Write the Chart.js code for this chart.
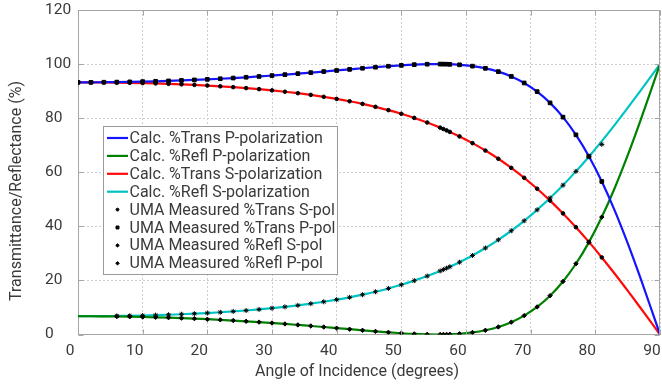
<!DOCTYPE html>
<html>
<head>
<meta charset="utf-8">
<script src="https://cdn.jsdelivr.net/npm/chart.js@4.4.1/dist/chart.umd.min.js"></script>
<style>
  html, body { margin: 0; padding: 0; background: #fff; }
  #wrap { width: 662px; height: 385px; }
</style>
</head>
<body>
<div id="wrap"><canvas id="chart" width="662" height="385"></canvas></div>
<script>
// calculated curves (degrees -> %)
const calcAngles = [0, 2, 4, 6, 8, 10, 12, 14, 16, 18, 20, 22, 24, 26, 28, 30, 32, 34, 36, 38, 40, 42, 44, 46, 48, 50, 52, 54, 56, 57, 59, 61, 63, 65, 67, 69, 71, 73, 75, 77, 79, 81, 83, 85, 87, 89, 90];
const calcTransP = [93.24, 93.25, 93.29, 93.34, 93.42, 93.52, 93.64, 93.78, 93.95, 94.14, 94.35, 94.58, 94.84, 95.12, 95.42, 95.75, 96.09, 96.46, 96.84, 97.23, 97.64, 98.04, 98.45, 98.84, 99.20, 99.53, 99.79, 99.95, 100.00, 99.96, 99.73, 99.24, 98.43, 97.20, 95.44, 93.02, 89.81, 85.65, 80.38, 73.84, 65.93, 56.58, 45.83, 33.79, 20.72, 6.98, 0];
const calcReflP = [6.76, 6.75, 6.71, 6.66, 6.58, 6.48, 6.36, 6.22, 6.05, 5.86, 5.65, 5.42, 5.16, 4.88, 4.58, 4.25, 3.91, 3.54, 3.16, 2.77, 2.36, 1.96, 1.55, 1.16, 0.80, 0.47, 0.21, 0.05, 0.00, 0.04, 0.27, 0.76, 1.57, 2.80, 4.56, 6.98, 10.19, 14.35, 19.62, 26.16, 34.07, 43.42, 54.17, 66.21, 79.28, 93.02, 100];
const calcTransS = [93.24, 93.23, 93.20, 93.14, 93.07, 92.97, 92.84, 92.69, 92.51, 92.30, 92.06, 91.78, 91.47, 91.12, 90.73, 90.28, 89.78, 89.23, 88.60, 87.90, 87.12, 86.25, 85.28, 84.19, 82.97, 81.61, 80.09, 78.39, 76.50, 75.47, 73.25, 70.77, 68.02, 64.98, 61.63, 57.95, 53.91, 49.52, 44.78, 39.68, 34.24, 28.49, 22.47, 16.22, 9.80, 3.28, 0];
const calcReflS = [6.76, 6.77, 6.80, 6.86, 6.93, 7.03, 7.16, 7.31, 7.49, 7.70, 7.94, 8.22, 8.53, 8.88, 9.27, 9.72, 10.22, 10.77, 11.40, 12.10, 12.88, 13.75, 14.72, 15.81, 17.03, 18.39, 19.91, 21.61, 23.50, 24.53, 26.75, 29.23, 31.98, 35.02, 38.37, 42.05, 46.09, 50.48, 55.22, 60.32, 65.76, 71.51, 77.53, 83.78, 90.20, 96.72, 100];

// measured points
const measTransAngles = [0, 2, 4, 6, 8, 10, 12, 14, 16, 18, 20, 22, 24, 26, 28, 30, 32, 34, 36, 38, 40, 42, 44, 46, 48, 50, 52, 54, 56, 56.5, 57, 57.5, 59, 61, 63, 65, 67, 69, 71, 73, 75, 77, 79, 81];
const measTransS = [93.24, 93.23, 93.20, 93.14, 93.07, 92.97, 92.84, 92.69, 92.51, 92.30, 92.06, 91.78, 91.47, 91.12, 90.73, 90.28, 89.78, 89.23, 88.60, 87.90, 87.12, 86.25, 85.28, 84.19, 82.97, 81.61, 80.09, 78.39, 76.50, 75.99, 75.47, 74.93, 73.25, 70.77, 68.02, 64.98, 61.63, 57.95, 53.91, 49.52, 44.78, 39.68, 34.24, 28.49];
const measTransP = [93.24, 93.25, 93.29, 93.34, 93.42, 93.52, 93.64, 93.78, 93.95, 94.14, 94.35, 94.58, 94.84, 95.12, 95.42, 95.75, 96.09, 96.46, 96.84, 97.23, 97.64, 98.04, 98.45, 98.84, 99.20, 99.53, 99.79, 99.95, 100.00, 99.98, 99.96, 99.91, 99.73, 99.24, 98.43, 97.20, 95.44, 93.02, 89.81, 85.65, 80.38, 73.84, 65.93, 56.58];
const measReflAngles = [6, 8, 10, 12, 14, 16, 18, 20, 22, 24, 26, 28, 30, 32, 34, 36, 38, 40, 42, 44, 46, 48, 50, 52, 54, 56, 56.5, 57, 57.5, 59, 61, 63, 65, 67, 69, 71, 73, 75, 77, 79, 81];
const measReflS = [6.86, 6.93, 7.03, 7.16, 7.31, 7.49, 7.70, 7.94, 8.22, 8.53, 8.88, 9.27, 9.72, 10.22, 10.77, 11.40, 12.10, 12.88, 13.75, 14.72, 15.81, 17.03, 18.39, 19.91, 21.61, 23.50, 24.01, 24.53, 25.07, 26.75, 29.23, 31.98, 35.02, 38.37, 42.05, 46.09, 50.48, 55.22, 60.32, 65.76, 70.30];
const measReflP = [6.66, 6.58, 6.48, 6.36, 6.22, 6.05, 5.86, 5.65, 5.42, 5.16, 4.88, 4.58, 4.25, 3.91, 3.54, 3.16, 2.77, 2.36, 1.96, 1.55, 1.16, 0.80, 0.47, 0.21, 0.05, 0.00, 0.02, 0.04, 0.09, 0.27, 0.76, 1.57, 2.80, 4.56, 6.98, 10.19, 14.35, 19.62, 26.16, 34.07, 43.42];

const xTitle = 'Angle of Incidence (degrees)';
const yTitle = 'Transmittance/Reflectance (%)';

const FONT = 'Roboto, "Noto Sans", sans-serif';
const TEXT = '#3a3a3a';
const AXIS = '#a6a6a6';

const xy = (xs, ys) => xs.map((x, i) => ({ x: x, y: ys[i] }));

const lineSet = (label, xs, ys, color) => ({
    label: label,
    data: xy(xs, ys),
    borderColor: color,
    backgroundColor: color,
    borderWidth: 2.2,
    pointRadius: 0,
    showLine: true,
    cubicInterpolationMode: 'monotone',
    order: 2
});

const pointSet = (label, xs, ys, style, radius) => ({
    label: label,
    data: xy(xs, ys),
    showLine: false,
    pointStyle: style,
    pointRadius: radius,
    pointBackgroundColor: '#000',
    pointBorderColor: '#000',
    pointBorderWidth: 1,
    order: 1
});

// box, inner ticks, legend and axis titles
const framePlugin = {
    id: 'frame',
    afterDatasetsDraw(chart) {
        const { ctx, chartArea: a, scales: { x, y } } = chart;
        const L = Math.round(a.left) + 0.5, R = Math.round(a.right) - 0.5;
        const T = Math.round(a.top) + 0.5, B = Math.round(a.bottom) - 0.5;
        ctx.save();
        ctx.strokeStyle = AXIS;
        ctx.lineWidth = 1;
        ctx.beginPath();
        ctx.moveTo(L, T); ctx.lineTo(R, T); ctx.lineTo(R, B);
        x.ticks.forEach(t => {
            const px = Math.round(x.getPixelForValue(t.value)) + 0.5;
            ctx.moveTo(px, B); ctx.lineTo(px, B - 5);
            ctx.moveTo(px, T); ctx.lineTo(px, T + 5);
        });
        y.ticks.forEach(t => {
            const py = Math.round(y.getPixelForValue(t.value)) + 0.5;
            ctx.moveTo(L, py); ctx.lineTo(L + 5, py);
            ctx.moveTo(R, py); ctx.lineTo(R - 5, py);
        });
        ctx.stroke();
        ctx.restore();
    },
    afterDraw(chart) {
        const { ctx, chartArea: a } = chart;
        ctx.save();

        // axis titles
        ctx.fillStyle = TEXT;
        ctx.font = '16px ' + FONT;
        ctx.textAlign = 'center';
        ctx.textBaseline = 'middle';
        ctx.fillText(xTitle, 357, 372);
        ctx.save();
        ctx.translate(17, 191);
        ctx.rotate(-Math.PI / 2);
        ctx.fillText(yTitle, 0, 0);
        ctx.restore();

        // legend
        const bx = a.left + 25.5, by = a.top + 116.5, bw = 234, bh = 148;
        ctx.fillStyle = '#fff';
        ctx.fillRect(bx, by, bw, bh);
        ctx.strokeStyle = '#9a9a9a';
        ctx.lineWidth = 1;
        ctx.strokeRect(bx, by, bw, bh);
        ctx.textAlign = 'left';
        ctx.font = '16px ' + FONT;
        chart.data.datasets.forEach((ds, i) => {
            const ry = by + 11.5 + i * 17.9;
            if (ds.showLine) {
                ctx.strokeStyle = ds.borderColor;
                ctx.lineWidth = 2.2;
                ctx.beginPath();
                ctx.moveTo(bx + 3.5, ry);
                ctx.lineTo(bx + 24.5, ry);
                ctx.stroke();
            } else {
                ctx.fillStyle = '#000';
                ctx.strokeStyle = '#000';
                ctx.lineWidth = 1;
                Chart.helpers.drawPoint(ctx, { pointStyle: ds.pointStyle, radius: ds.pointRadius * 0.8, rotation: 0, borderWidth: 1 }, bx + 14, ry);
            }
            ctx.fillStyle = TEXT;
            ctx.fillText(ds.label, bx + 26, ry + 1);
        });
        ctx.restore();
    }
};

new Chart(document.getElementById('chart'), {
    type: 'line',
    data: {
        datasets: [
            lineSet('Calc. %Trans P-polarization', calcAngles, calcTransP, 'rgb(20, 20, 255)'),
            lineSet('Calc. %Refl P-polarization', calcAngles, calcReflP, 'rgb(0, 128, 0)'),
            lineSet('Calc. %Trans S-polarization', calcAngles, calcTransS, 'rgb(255, 10, 10)'),
            lineSet('Calc. %Refl S-polarization', calcAngles, calcReflS, 'rgb(0, 196, 196)'),
            pointSet('UMA Measured %Trans S-pol', measTransAngles, measTransS, 'circle', 1.8),
            pointSet('UMA Measured %Trans P-pol', measTransAngles, measTransP, 'rect', 2.6),
            pointSet('UMA Measured %Refl S-pol', measReflAngles, measReflS, 'star', 2.5),
            pointSet('UMA Measured %Refl P-pol', measReflAngles, measReflP, 'rectRot', 2.2)
        ]
    },
    options: {
        responsive: false,
        animation: false,
        events: [],
        layout: { autoPadding: false, padding: { left: 45, right: 2, top: 10, bottom: 0 } },
        plugins: { legend: { display: false }, tooltip: { enabled: false } },
        scales: {
            x: {
                type: 'linear',
                min: 0,
                max: 90,
                afterFit: s => { s.height = 50.5; s.paddingLeft = 0; s.paddingRight = 0; },
                ticks: { stepSize: 10, padding: 7, labelOffset: -8, color: TEXT, font: { family: FONT, size: 15.5 } },
                grid: { color: '#cfcfcf', drawTicks: false },
                border: { color: AXIS, dash: [2, 2] },
                title: { display: false }
            },
            y: {
                min: 0,
                max: 120,
                afterFit: s => { s.width = 33; s.paddingTop = 0; s.paddingBottom = 0; },
                ticks: { stepSize: 20, crossAlign: 'far', color: TEXT, font: { family: FONT, size: 15.5 } },
                grid: { color: '#cfcfcf', drawTicks: false },
                border: { color: AXIS, dash: [2, 2] },
                title: { display: false }
            }
        }
    },
    plugins: [framePlugin]
});
</script>
</body>
</html>
